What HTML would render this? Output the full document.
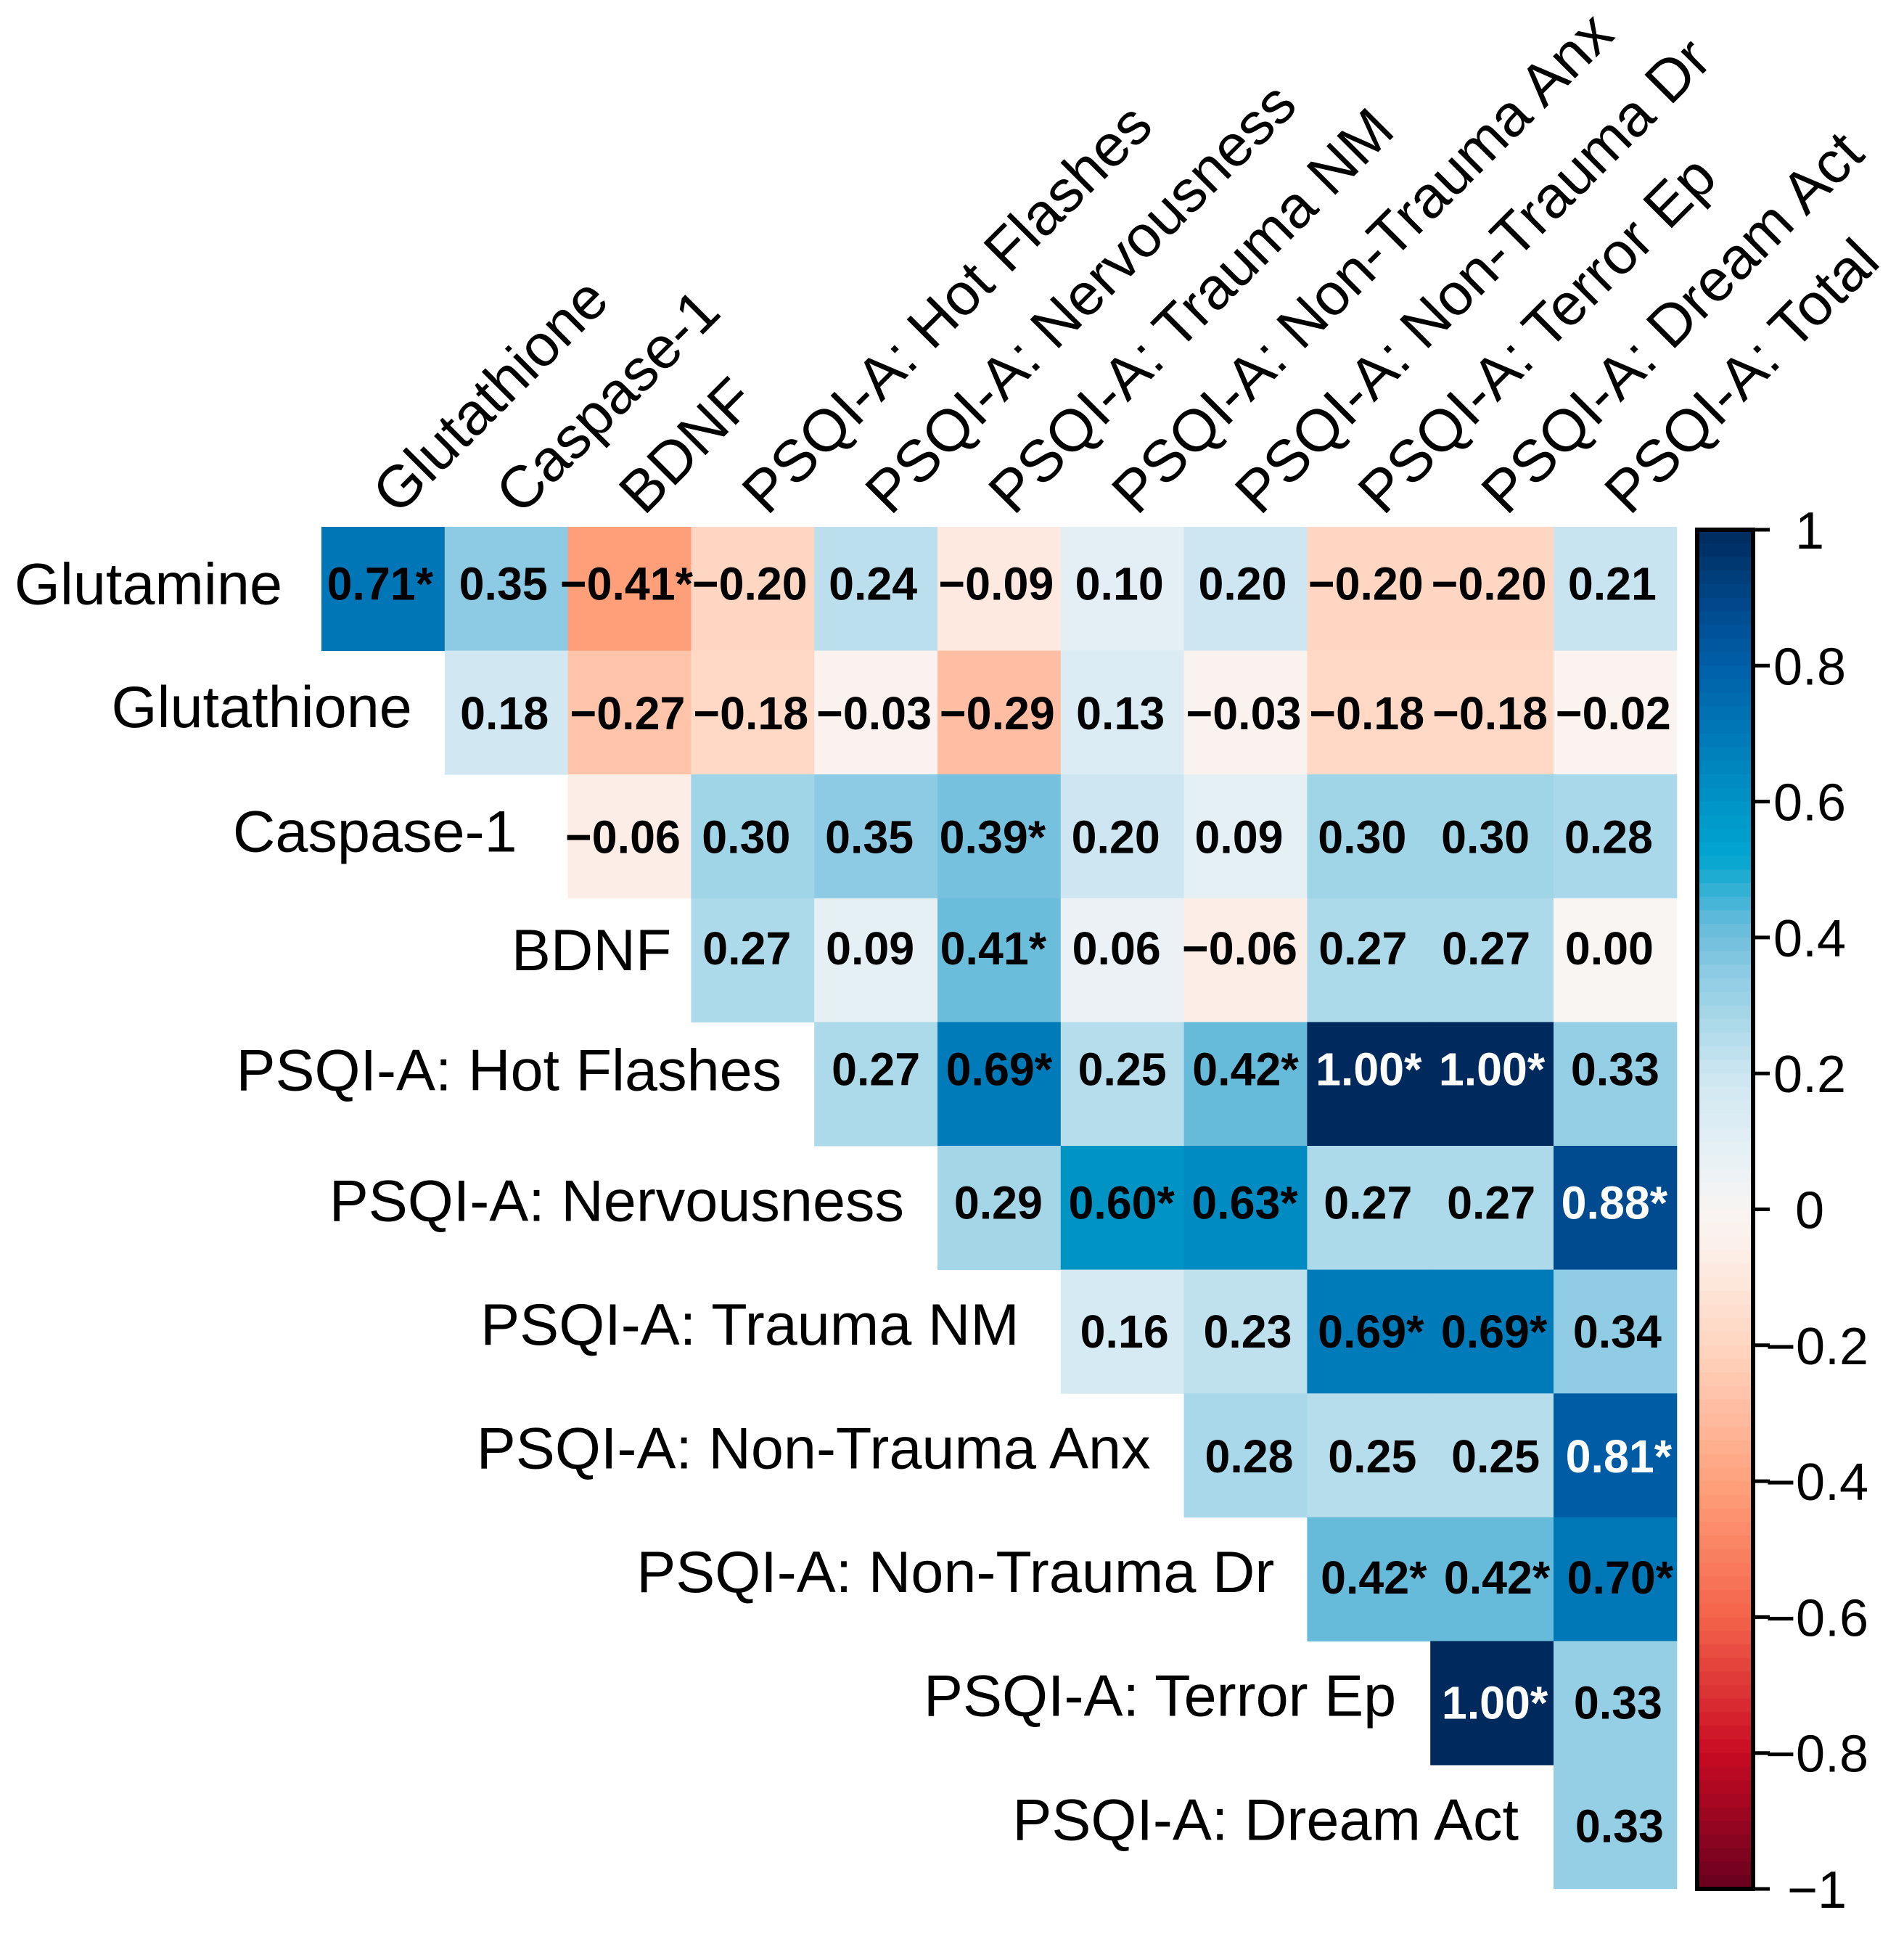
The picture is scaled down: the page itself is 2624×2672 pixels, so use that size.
<!DOCTYPE html>
<html lang="en">
<head>
<meta charset="utf-8">
<title>Correlation matrix</title>
<style>
html,body{margin:0;padding:0;background:#fff;}
svg{display:block;}
text{font-family:"Liberation Sans",Arial,sans-serif;fill:#000;}
</style>
</head>
<body>
<svg id="chart" xmlns="http://www.w3.org/2000/svg" width="2624" height="2672" viewBox="0 0 2624 2672"></svg>
<script>
// ---- data ----
const rowLabels = ["Glutamine","Glutathione","Caspase-1","BDNF","PSQI-A: Hot Flashes","PSQI-A: Nervousness","PSQI-A: Trauma NM","PSQI-A: Non-Trauma Anx","PSQI-A: Non-Trauma Dr","PSQI-A: Terror Ep","PSQI-A: Dream Act"];
const colLabels = ["Glutathione","Caspase-1","BDNF","PSQI-A: Hot Flashes","PSQI-A: Nervousness","PSQI-A: Trauma NM","PSQI-A: Non-Trauma Anx","PSQI-A: Non-Trauma Dr","PSQI-A: Terror Ep","PSQI-A: Dream Act","PSQI-A: Total"];
const row0 = [0.71,0.35,-0.41,-0.20,0.24,-0.09,0.10,0.20,-0.20,-0.20,0.21];
const row1 = [0.18,-0.27,-0.18,-0.03,-0.29,0.13,-0.03,-0.18,-0.18,-0.02];
const row2 = [-0.06,0.30,0.35,0.39,0.20,0.09,0.30,0.30,0.28];
const row3 = [0.27,0.09,0.41,0.06,-0.06,0.27,0.27,0.00];
const row4 = [0.27,0.69,0.25,0.42,1.00,1.00,0.33];
const row5 = [0.29,0.60,0.63,0.27,0.27,0.88];
const row6 = [0.16,0.23,0.69,0.69,0.34];
const row7 = [0.28,0.25,0.25,0.81];
const row8 = [0.42,0.42,0.70];
const row9 = [1.00,0.33];
const row10 = [0.33];
const matrix = [row0,row1,row2,row3,row4,row5,row6,row7,row8,row9,row10];
const legendTicks = [1,0.8,0.6,0.4,0.2,0,-0.2,-0.4,-0.6,-0.8,-1];
const significanceCutoff = 0.38;

// ---- layout ----
const NS = "http://www.w3.org/2000/svg";
const svg = document.getElementById("chart");
const plotLeft = 443, plotTop = 726, cellW = 169.8, cellH = 170.6;
const barLeft = 2339, barRight = 2416, barTop = 730, barBottom = 2603;
const rowLabelGap = [54,45,70,27,45,46,57,46,45,47,48];
const rowLabelDy = [-5,-6,-5,-12,-17,-8,-8,-8,-8,-8,-8];
const rowValueDx = [-4,-2.5,-9,-8,0,-1,3,5,7,4,6];
const rowValueDy = [-8,0,0,-17,-21,-8,-1,0.5,-3,-1,-2];
const colorStops = [[-1,"#67001f"],[-0.8,"#c90b22"],[-0.6,"#f4634b"],[-0.41,"#ff9f7a"],[-0.2,"#ffd6c1"],[-0.05,"#fcf0ea"],[0,"#f8f5f3"],[0.1,"#e3eff5"],[0.2,"#cde6f1"],[0.28,"#a8d8e9"],[0.35,"#8ccbe3"],[0.42,"#66bbdb"],[0.52,"#00a6cf"],[0.62,"#008fc3"],[0.7,"#0078b8"],[0.8,"#0060a8"],[0.88,"#004b8f"],[1,"#002a5e"]];

function x(col){ return plotLeft + col*cellW; }
function y(row){ return plotTop + row*cellH; }
function legendY(v){ return barTop + (1-v)/2*(barBottom-barTop); }
function hex(h){ return [1,3,5].map(function(i){ return parseInt(h.substr(i,2),16); }); }
function colorFor(v){
  const c = Math.max(-1,Math.min(1,v));
  for(let i=1;i<colorStops.length;i++){
    if(c<=colorStops[i][0]){
      const a=colorStops[i-1], b=colorStops[i], t=(c-a[0])/(b[0]-a[0]);
      const ca=hex(a[1]), cb=hex(b[1]);
      return "rgb("+ca.map(function(q,k){return Math.round(q+(cb[k]-q)*t);}).join(",")+")";
    }
  }
  return colorStops[colorStops.length-1][1];
}
function make(tag,attrs,txt){
  const el=document.createElementNS(NS,tag);
  for(const k in attrs){ el.setAttribute(k,attrs[k]); }
  if(txt!==undefined){ el.textContent=txt; }
  return el;
}
function fmt(v){ return (v<0?"\u2212":"")+Math.abs(v).toFixed(2); }

// ---- cells and values ----
const cellLayer = make("g",{});


svg.appendChild(cellLayer);
const valueLayer = make("g",{"font-weight":"bold","font-size":"64","text-anchor":"middle"});


svg.appendChild(valueLayer);

matrix.forEach(function(values,r){
  values.forEach(function(v,k){
    const c = r+k;
    const rect = make("rect",{x:x(c),y:y(r),width:cellW+0.5,height:cellH+0.5,fill:colorFor(v)});
    
    
    cellLayer.appendChild(rect);
    const star = Math.abs(v)>=significanceCutoff ? "*" : "";
    const tx = x(c)+cellW/2+rowValueDx[r], ty = y(r)+cellH/2+23+rowValueDy[r];
    const t = make("text",{transform:"translate("+tx+" "+ty+") scale(0.98 1)",style:"fill:"+(Math.abs(v)>=0.75?"#fff":"#000")},fmt(v)+star);
    
    
    valueLayer.appendChild(t);
  });
});

// ---- row labels ----
rowLabels.forEach(function(label,r){
  const t = make("text",{x:x(r)-rowLabelGap[r],y:y(r)+cellH/2+26+rowLabelDy[r],"font-size":"81","text-anchor":"end"},label);
  
  
  svg.appendChild(t);
});

// ---- column labels ----
colLabels.forEach(function(label,c){
  const px = x(c)+cellW/2+20, py = 712;
  const t = make("text",{x:px,y:py,"font-size":"81.5",transform:"rotate(-45 "+px+" "+py+")"},label);
  
  
  svg.appendChild(t);
});

// ---- colour bar ----
const bar = make("g",{});


svg.appendChild(bar);
const bandCount = 100;
for(let i=0;i<bandCount;i++){
  const v = 1-(i+0.5)*2/bandCount;
  const band = make("rect",{x:barLeft,y:barTop+i*(barBottom-barTop)/bandCount,width:barRight-barLeft,height:(barBottom-barTop)/bandCount+0.6,fill:colorFor(v)});
  bar.appendChild(band);
}
const frame = make("rect",{x:barLeft,y:barTop,width:barRight-barLeft,height:barBottom-barTop,fill:"none",stroke:"#000","stroke-width":"6"});


bar.appendChild(frame);
legendTicks.forEach(function(v){
  const ty = legendY(v);
  const tick = make("line",{x1:barRight,x2:barRight+23,y1:ty,y2:ty,stroke:"#000","stroke-width":"5"});
  
  
  bar.appendChild(tick);
  const lab = make("text",{x:v<0?2504:2494,y:ty+26,"font-size":"72","text-anchor":"middle"},(v<0?"\u2212":"")+Math.abs(v));
  
  
  bar.appendChild(lab);
});
</script>
</body>
</html>
